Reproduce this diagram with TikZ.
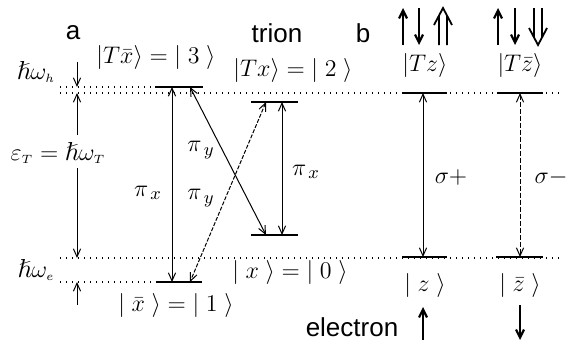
\documentclass[tikz,border=0pt]{standalone}
\usepackage{amssymb}
\usepackage{fontspec}
\setmainfont{Liberation Serif}
\setsansfont{Liberation Sans}
\usetikzlibrary{arrows.meta}

\begin{document}
\begin{tikzpicture}[x=0.5pt,y=-0.5pt,
    level/.style={line width=1.4pt},
    dotline/.style={line width=0.6pt,dash pattern=on 0.7pt off 2.3pt},
    trans/.style={line width=0.5pt,{Straight Barb[length=4pt,width=3.6pt]}-{Straight Barb[length=4pt,width=3.6pt]}},
    gapline/.style={line width=0.5pt,-{Straight Barb[length=4pt,width=3.6pt]}},
    spin/.style={line width=1.1pt,-{Straight Barb[length=4pt,width=4pt,line width=1.1pt]}},
    lbl/.style={font=\fontsize{13}{15}\selectfont,inner sep=0pt},
    tag/.style={font=\sffamily\fontsize{13}{15}\selectfont,inner sep=0pt}]
  \useasboundingbox (0,0) rectangle (571,348);
  % level end points
  \coordinate (s3l) at (155,87);  \coordinate (s3r) at (203,87);
  \coordinate (s2l) at (251,102); \coordinate (s2r) at (298,102);
  \coordinate (s0l) at (251,235); \coordinate (s0r) at (298,235);
  \coordinate (s1l) at (156,282); \coordinate (s1r) at (202,282);
  \coordinate (tzl) at (402,93);  \coordinate (tzr) at (447,93);
  \coordinate (tbl) at (497,93);  \coordinate (tbr) at (543,93);
  \coordinate (zl) at (402,257);  \coordinate (zr) at (447,257);
  \coordinate (zbl) at (496,257); \coordinate (zbr) at (543,257);
  % dotted guides
  \draw[dotline] (60,87) -- (s3l);
  \draw[dotline] (60,93) -- (562,93);
  \draw[dotline] (60,258) -- (562,258);
  \draw[dotline] (60,282) -- (s1l);
  % levels
  \foreach \a/\b in {s3l/s3r,s2l/s2r,s0l/s0r,s1l/s1r,tzl/tzr,tbl/tbr,zl/zr,zbl/zbr}
    \draw[level] (\a) -- (\b);
  % transitions, panel a
  \coordinate (p3a) at (172,87);  \coordinate (p1a) at (172,282);
  \coordinate (p3b) at (190,87);  \coordinate (p0b) at (266,235);
  \coordinate (p2a) at (266,102); \coordinate (p1b) at (190,282);
  \coordinate (p2b) at (282,102); \coordinate (p0a) at (282,235);
  \draw[trans] (p3a) -- (p1a);
  \draw[trans] (p3b) -- (p0b);
  \draw[trans,dash pattern=on 2pt off 0.8pt] (p2a) -- (p1b);
  \draw[trans] (p2b) -- (p0a);
  % transitions, panel b
  \coordinate (q1) at (423,93);  \coordinate (q2) at (423,257);
  \coordinate (q3) at (520,93);  \coordinate (q4) at (520,257);
  \draw[trans] (q1) -- (q2);
  \draw[trans,dash pattern=on 2.5pt off 1pt] (q3) -- (q4);
  % energy gaps
  \coordinate (g1) at (77,62);  \coordinate (g2) at (77,87);
  \coordinate (g3) at (77,135); \coordinate (g4) at (77,93);
  \coordinate (g5) at (77,168); \coordinate (g6) at (77,258);
  \coordinate (g7) at (77,305); \coordinate (g8) at (77,282);
  \draw[gapline] (g1) -- (g2);
  \draw[gapline] (g3) -- (g4);
  \draw[gapline] (g5) -- (g6);
  \draw[gapline] (g7) -- (g8);
  \node[lbl] (wh) at (36,72) {$\hslash\omega_{\scriptscriptstyle h}$};
  \node[lbl] (wt) at (58,153) {$\varepsilon_{\scriptscriptstyle T}=\hslash\omega_{\scriptscriptstyle T}$};
  \node[lbl] (we) at (36,270) {$\hslash\omega_{\scriptscriptstyle e}$};
  % labels
  \node[tag] (la) at (73,33) {a};
  \node[tag] (lb) at (363,33) {b};
  \node[tag] (ltrion) at (277,33) {trion};
  \node[tag] (lelec) at (352,327) {electron};
  \node[lbl] (k3) at (156,57) {$|T\bar{x}\rangle=|\;3\;\rangle$};
  \node[lbl] (k2) at (293,70) {$|Tx\rangle=|\;2\;\rangle$};
  \node[lbl] (k1) at (176,305) {$|\;\bar{x}\;\rangle=|\;1\;\rangle$};
  \node[lbl] (k0) at (290,272) {$|\;x\;\rangle=|\;0\;\rangle$};
  \node[lbl] (px1) at (148,193) {$\pi_{\,x}$};
  \node[lbl] (py1) at (201,150) {$\pi_{\,y}$};
  \node[lbl] (py2) at (201,198) {$\pi_{\,y}$};
  \node[lbl] (px2) at (306,172) {$\pi_{\,x}$};
  \node[lbl] (sp) at (451,177) {$\sigma{+}$};
  \node[lbl] (sm) at (551,177) {$\sigma{-}$};
  \node[lbl] (ktz) at (425,65) {$|Tz\rangle$};
  \node[lbl] (ktb) at (520,65) {$|T\bar{z}\rangle$};
  \node[lbl] (kz) at (425,285) {$|\;z\;\rangle$};
  \node[lbl] (kzb) at (520,285) {$|\;\bar{z}\;\rangle$};
  % spins
  \draw[spin] (403,45) -- (403,8);
  \draw[spin] (419,8) -- (419,45);
  \draw[line width=0.9pt] (439,45) -- (439,16) (447,45) -- (447,16)
    (434,25) -- (443,8) -- (452,25);
  \draw[spin] (498,45) -- (498,8);
  \draw[spin] (515,8) -- (515,45);
  \draw[line width=0.9pt] (534,8) -- (534,37) (542,8) -- (542,37)
    (529,28) -- (538,45) -- (547,28);
  \draw[spin] (423,340) -- (423,307);
  \draw[spin] (520,305) -- (520,340);
\end{tikzpicture}
\end{document}
